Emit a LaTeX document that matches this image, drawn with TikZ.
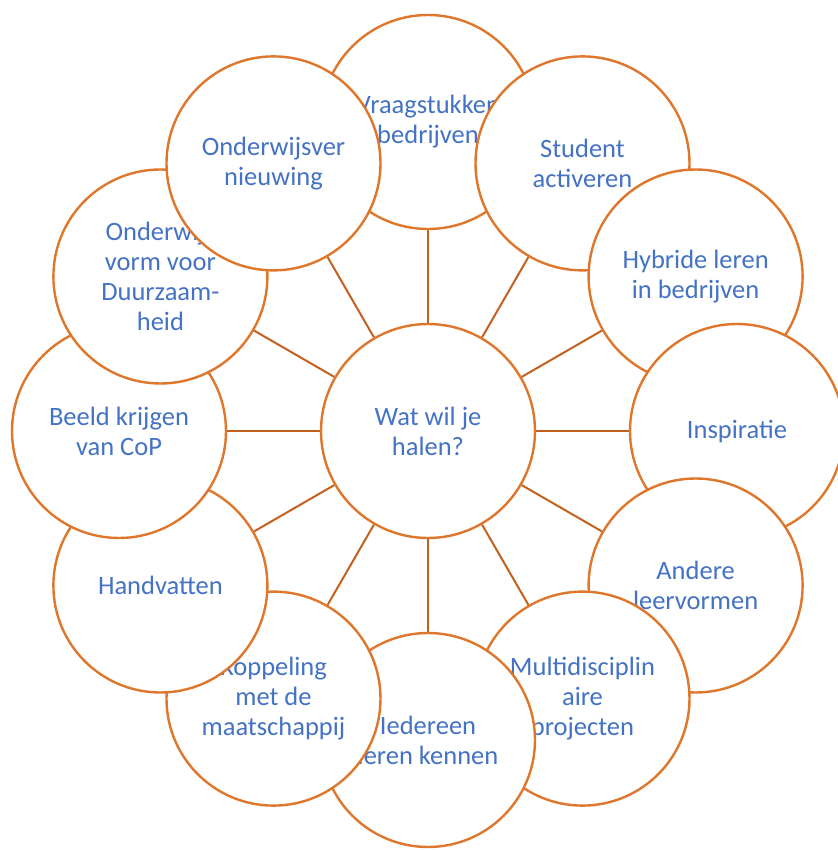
\documentclass[tikz,border=0pt]{standalone}
\usepackage{fontspec}
\setmainfont{Carlito}
\usetikzlibrary{backgrounds}
\definecolor{ringorange}{RGB}{222,118,44}
\definecolor{spokebrown}{RGB}{196,96,30}
\definecolor{labelblue}{RGB}{68,114,196}
\tikzset{
	bubble/.style={circle,draw=ringorange,line width=2.4pt,fill=white,minimum size=214pt,inner sep=0pt,align=center,text=labelblue,font=\fontsize{26.5}{30}\selectfont},
	spoke/.style={draw=spokebrown,line width=2pt}
}
\begin{document}
\begin{tikzpicture}[x=1pt,y=1pt]
	\useasboundingbox (-428,-419) rectangle (409,431);
	\node[bubble] (hub) at (0,0) {Wat wil je\\halen?};
	% outer ring, clockwise from the top, each one over the one before
	\foreach \ang/\nm/\txt in {90/vraag/{Vraagstukken\\bedrijven},60/student/{Student\\activeren},30/hybride/{Hybride leren\\in bedrijven},0/inspiratie/{Inspiratie},-30/andere/{Andere\\leervormen},-60/multi/{Multidisciplin\\aire\\projecten},-90/iedereen/{Iedereen\\leren kennen},-120/koppeling/{Koppeling\\met de\\maatschappij},-150/handvatten/{Handvatten},-180/beeld/{Beeld krijgen\\van CoP},-210/duurzaam/{Onderwijs\\vorm voor\\Duurzaam-\\heid},-240/vernieuwing/{Onderwijsver\\nieuwing}}
		\node[bubble] (\nm) at (\ang:309) {\txt};
	\begin{scope}[on background layer]
		\foreach \nm in {vraag,student,hybride,inspiratie,andere,multi,iedereen,koppeling,handvatten,beeld,duurzaam,vernieuwing}
			\draw[spoke] (hub) -- (\nm);
	\end{scope}
	%\draw[spoke] (hub) -- (vraag);
\end{tikzpicture}
\end{document}
